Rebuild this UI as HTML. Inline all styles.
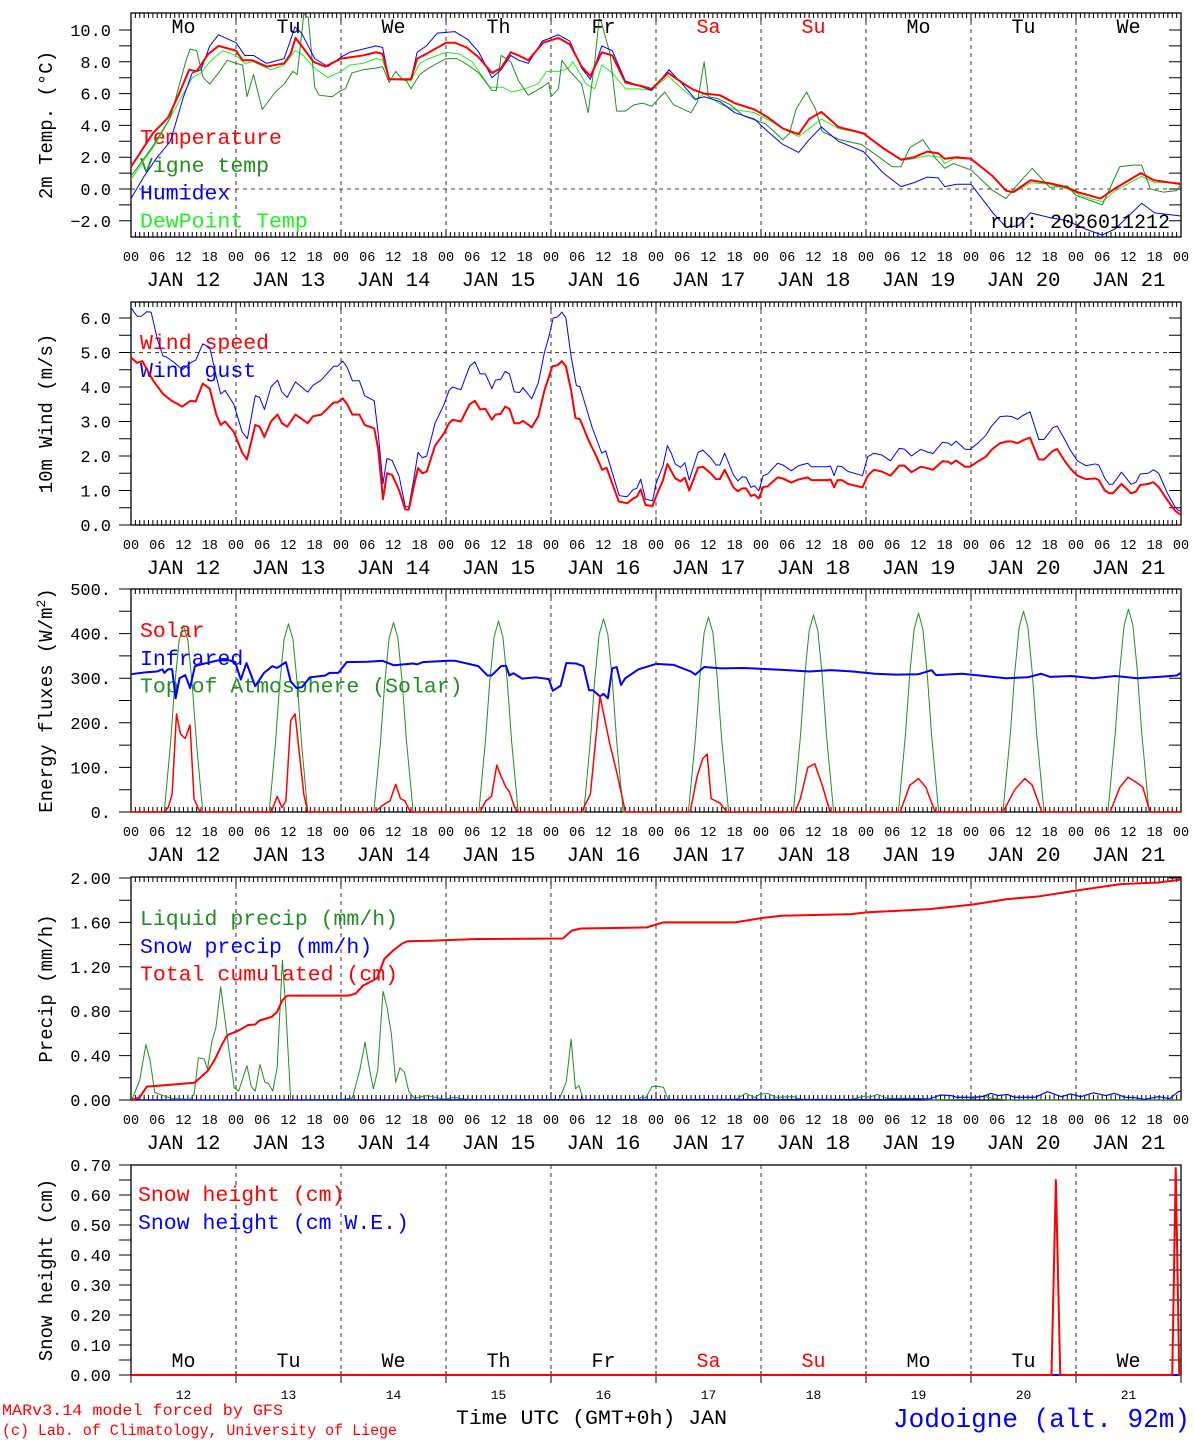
<!DOCTYPE html>
<html><head><meta charset="utf-8"><style>
html,body{margin:0;padding:0;background:#fff;}
svg{display:block;}
text{font-family:"Liberation Mono","DejaVu Sans Mono",monospace;}
</style></head><body>
<svg id="chart" xmlns="http://www.w3.org/2000/svg" width="1194" height="1440" viewBox="0 0 1194 1440">
<rect width="1194" height="1440" fill="#fff"/>
<g id="root"></g>
</svg>
<script>
// ---------- data (hour offset from JAN 12 00 UTC, value) ----------
const dayNames = ["Mo","Tu","We","Th","Fr","Sa","Su","Mo","Tu","We"];
const dayNums = ["12","13","14","15","16","17","18","19","20","21"];
const hourLabels = ["00","06","12","18"];

const tempPts = [[0,1.4],[5,3.5],[8.5,4.5],[11,6.0],[13.3,7.5],[15,7.4],[17.7,8.5],[20,9.0],[24,8.7],[25.5,8.1],[27.7,8.1],[31,7.7],[35,7.9],[36.5,8.5],[37.6,9.5],[39,9.0],[41.7,8.0],[44.4,7.7],[48,8.2],[53,8.4],[56,8.6],[57.5,8.5],[59,6.9],[64,6.9],[65.4,8.2],[67.5,8.5],[72,9.2],[74,9.2],[76.7,8.9],[79.4,8.3],[82.5,7.3],[84.6,7.6],[86.8,8.6],[88.6,8.4],[90.8,8.1],[94.2,9.2],[97.7,9.5],[100.3,9.1],[103,7.7],[105,7.1],[107.6,8.6],[110,8.4],[113,6.7],[116.3,6.5],[119,6.3],[122.8,7.3],[125.9,6.7],[128.5,6.25],[131,6.0],[134.6,5.9],[138,5.4],[142.5,5.0],[145.6,4.5],[149,3.8],[152.6,3.45],[155,4.4],[157.8,4.85],[161.7,3.9],[167.4,3.5],[172,2.55],[176,1.85],[179,2.0],[182,2.35],[184.5,2.25],[186,1.9],[188.7,2.0],[192,1.9],[197,0.8],[200,-0.1],[201.6,-0.2],[205.6,0.55],[210.3,0.35],[214,0.1],[216.4,-0.2],[221.6,-0.6],[225,0.05],[230.8,1.0],[233.8,0.55],[239,0.35],[240,0.3]];
const humidexPts = [[0,-0.6],[3,0.8],[6,2.0],[9,3.0],[12,5.8],[14,7.3],[16,7.5],[18,9.0],[20,9.7],[24,9.2],[26,8.4],[28,8.4],[31,7.9],[35,8.2],[37.5,10.2],[39,9.8],[42,8.2],[45,7.7],[48,8.3],[50,8.6],[53,8.8],[56,9.0],[57.5,8.9],[59,6.9],[64,6.9],[65.4,8.6],[67.5,9.0],[70,9.8],[74,9.9],[77,9.4],[79.5,8.6],[82.5,7.0],[84.6,7.5],[86.8,8.4],[88.6,8.1],[90.8,7.9],[94,9.3],[97.7,9.7],[100.3,9.3],[103,7.6],[105,6.9],[107.6,9.0],[110,8.7],[113,6.8],[116,6.5],[119,6.2],[123,7.5],[126,6.6],[129,5.65],[131,5.8],[134.6,5.5],[138,4.8],[142.5,4.4],[145.6,3.6],[149,2.8],[152.6,2.3],[155,3.1],[157.8,3.9],[161.7,3.0],[167.4,2.35],[172,1.0],[176,0.15],[179,0.4],[182,0.75],[184.5,0.7],[186,0.15],[188.7,0.3],[192,0.3],[197,-1.5],[200,-2.4],[203,-2.3],[205.6,-1.5],[210,-1.8],[214,-2.0],[218,-2.5],[222,-2.9],[225,-2.5],[231,-0.9],[234,-1.5],[240,-1.7]];
const dewPts = [[0,0.6],[6,3.0],[12,6.0],[14,7.0],[16,7.3],[18,8.0],[21,8.7],[24,8.4],[26,7.9],[28,8.0],[32,7.5],[35,7.8],[37.5,8.7],[39,8.5],[42,7.6],[45,7.0],[48,7.4],[50,7.8],[53,7.9],[56,8.2],[57.5,8.1],[59,6.9],[64,6.8],[66,7.9],[68,8.2],[72,8.6],[75,8.5],[78,8.0],[82,6.4],[85,6.4],[87,6.1],[90,6.3],[93,6.6],[95,7.4],[98,7.4],[100,7.6],[101,8.0],[104,6.6],[106,6.3],[107.6,7.8],[110,7.3],[113,6.3],[116,6.3],[119,6.2],[122.8,7.1],[126,6.3],[129,5.6],[131,6.0],[135,5.3],[138,5.0],[142.5,4.8],[146,4.3],[149,3.8],[152.6,3.3],[155,3.8],[157.8,4.4],[161.7,3.8],[167.4,3.5],[172,2.6],[176,1.8],[179,1.9],[182,2.1],[185,2.0],[186,1.6],[188,1.9],[192,1.9],[197,0.8],[200,-0.1],[202,-0.2],[205.6,0.4],[210,0.3],[214,0.0],[218,-0.5],[222,-0.8],[225,-0.1],[231,0.8],[234,0.4],[240,0.4]];
const vignePts = [[0,0.8],[5,2.7],[9,4.5],[11,6.5],[12.5,8.0],[13.5,8.8],[15,8.7],[16.5,7.0],[18,6.6],[20,7.3],[22,8.1],[24,7.9],[25.5,7.8],[26.5,5.8],[28,7.2],[30,5.0],[33,6.1],[35,6.6],[37,7.4],[38,7.2],[39.5,11.0],[40.5,10.8],[42,6.4],[43,5.9],[46,5.8],[48,6.2],[49,6.3],[50.5,7.3],[53,7.5],[56,7.6],[57.5,7.7],[59,6.7],[60.5,7.4],[62,6.9],[63,6.8],[64,6.3],[66,7.2],[68,7.6],[72,8.2],[74.5,8.2],[77,7.8],[79.5,7.3],[82.5,6.2],[83.5,6.2],[84.6,8.4],[86.8,8.0],[88.6,6.8],[90.8,5.9],[94,6.4],[95.5,6.7],[96,5.8],[97.7,6.3],[98.5,8.1],[100,7.5],[103,6.6],[104.5,4.8],[106,8.0],[107,10.7],[107.5,10.5],[109.5,8.5],[111,4.9],[113,4.9],[115,5.3],[117,5.4],[119,5.2],[122,6.1],[124,5.3],[128,4.8],[129.5,5.5],[131,8.0],[132,5.8],[134,5.7],[137,5.3],[140,4.6],[145,4.1],[149,3.1],[150.5,3.5],[152,5.0],[154.4,6.1],[156.5,5.0],[158,3.6],[162,3.1],[167,2.8],[171,2.0],[174,1.4],[176,1.4],[178,2.6],[181,3.1],[184,1.9],[186,1.3],[188,1.6],[192,1.2],[197,-0.1],[200,-0.6],[203,0.4],[206,1.3],[208,0.7],[210,0.1],[214,0.2],[216,-0.4],[222,-1.0],[226,1.4],[229,1.5],[231,1.5],[233,0.0],[236,-0.2],[239,-0.1],[240,0.3]];

const windPts = [[0,4.85],[1.4,4.7],[2.6,4.75],[5,4.2],[7.3,3.8],[9.3,3.6],[11.7,3.43],[13.6,3.6],[14.8,3.58],[16.4,4.1],[18,3.95],[19.5,3.2],[20.5,2.9],[21.5,3.0],[23.5,2.7],[25.4,2.1],[26.5,1.9],[28.4,2.9],[29.4,2.85],[30.5,2.55],[32,3.0],[33.5,3.2],[34.5,2.95],[35.7,2.85],[37.6,3.2],[40.4,2.95],[41.6,3.15],[43.5,3.2],[46.3,3.55],[47.2,3.55],[48.4,3.67],[49.4,3.5],[50.6,3.2],[52.2,3.2],[53.4,2.9],[55.6,2.8],[56.5,2.2],[57.6,0.75],[58.5,1.5],[59.7,1.45],[61.3,1.0],[62.7,0.45],[63.5,0.45],[64.6,1.1],[65.6,1.65],[66.6,1.5],[67.6,1.55],[69.5,2.3],[71.5,2.65],[72.7,2.95],[73.5,3.05],[75.4,3.0],[77.4,3.5],[78.6,3.6],[79.8,3.35],[81,3.37],[82.5,3.05],[83.3,3.2],[84.5,3.22],[85.5,3.43],[86.5,3.37],[87.6,2.95],[88.8,2.95],[89.6,3.02],[91.6,2.83],[93.1,3.15],[94.5,3.9],[96.3,4.6],[97.5,4.63],[98.5,4.75],[99.4,4.6],[100.6,3.9],[101.6,3.1],[102.6,3.07],[104.6,2.45],[106.4,1.98],[107.7,1.6],[108.7,1.66],[111.5,0.68],[113.4,0.63],[114.8,0.77],[115.6,0.82],[116.5,1.03],[117.6,0.58],[119.2,0.55],[120,0.82],[121.6,1.3],[122.6,1.77],[124.4,1.35],[125.6,1.27],[126.6,1.37],[127.6,1.0],[129.6,1.66],[130.7,1.69],[132.5,1.5],[133.7,1.33],[134.6,1.33],[135.7,1.6],[137.7,1.09],[138.7,0.98],[139.7,1.06],[140.6,1.06],[141.7,0.84],[142.5,0.88],[143.5,0.77],[144.5,1.1],[145.5,1.12],[147.8,1.38],[149,1.35],[150.9,1.23],[152.6,1.32],[154.7,1.38],[155.5,1.3],[159.1,1.3],[159.9,1.32],[160.7,1.09],[161.5,1.3],[162.5,1.3],[163.9,1.19],[167.2,1.09],[168.4,1.43],[169.8,1.6],[171.6,1.55],[173.6,1.43],[175.6,1.72],[176.8,1.72],[178.4,1.53],[180.5,1.69],[182,1.65],[183.3,1.6],[185.5,1.85],[186.9,1.83],[187.5,1.77],[188.6,1.87],[190.6,1.69],[191.8,1.69],[193.8,1.86],[195.4,1.98],[196.6,2.17],[198.6,2.37],[200.2,2.42],[201.4,2.42],[202.6,2.37],[203.8,2.45],[205.5,2.53],[207.5,1.9],[208.7,1.9],[210.7,2.15],[211.7,2.2],[213.5,1.84],[214.7,1.64],[216.3,1.43],[218.3,1.33],[220.4,1.35],[221.2,1.3],[222.6,1.0],[223.6,0.92],[224.4,0.92],[226.4,1.19],[228.6,0.92],[229.7,0.97],[230.7,1.16],[232.5,1.19],[233.7,1.24],[234.9,1.1],[236.9,0.72],[238.6,0.42],[239.4,0.34],[240,0.3]];
const gustPts = [[0,6.3],[1.4,6.05],[2.4,6.05],[3.6,6.18],[4.6,6.17],[6.1,5.35],[7.3,4.9],[8.1,4.87],[10,4.7],[11.7,4.5],[13.6,4.7],[14.8,4.78],[16.4,5.25],[18,5.15],[19.5,4.3],[20.5,3.8],[21.5,3.9],[23.5,3.5],[25.4,2.7],[26.6,2.5],[28.4,3.75],[29.4,3.7],[30.5,3.35],[32,4.0],[33.5,4.2],[34.5,3.85],[35.7,3.7],[37.6,4.15],[40.4,3.85],[41.6,4.05],[43.5,4.2],[46.3,4.6],[47.2,4.6],[48.4,4.75],[49.4,4.57],[50.6,4.18],[52.2,4.18],[53.4,3.75],[55.6,3.6],[56.5,2.65],[57.6,1.2],[58.5,1.93],[59.7,1.87],[61.3,1.4],[62.7,0.53],[63.5,0.53],[64.6,1.3],[65.6,2.1],[66.6,1.95],[67.6,2.0],[69.5,2.95],[71.5,3.48],[72.7,3.9],[73.5,4.0],[75.4,3.92],[77.4,4.6],[78.6,4.73],[79.8,4.38],[81,4.38],[82.5,3.95],[83.3,4.2],[84.5,4.22],[85.5,4.45],[86.5,4.38],[87.6,3.86],[88.8,3.84],[89.6,3.98],[91.6,3.66],[93.1,4.12],[94.5,5.0],[95.5,5.45],[96.5,6.0],[97.5,6.03],[98.5,6.17],[99.4,6.0],[100.6,4.88],[101.8,4.04],[102.6,4.01],[105.4,2.83],[107.6,2.08],[108.5,2.15],[111.6,0.85],[113.4,0.82],[114.8,1.03],[115.6,1.06],[116.5,1.33],[117.6,0.75],[119.2,0.7],[120,1.2],[121.6,1.72],[122.6,2.3],[123.5,2.08],[124.4,1.77],[125.6,1.67],[126.6,1.8],[127.6,1.3],[129.6,2.1],[130.7,2.17],[132.5,1.95],[133.7,1.74],[134.6,1.74],[135.7,2.08],[137.7,1.45],[138.7,1.28],[139.7,1.4],[140.6,1.38],[141.7,1.09],[142.5,1.14],[143.5,0.99],[144.5,1.43],[145.5,1.48],[147.8,1.79],[149,1.74],[150.9,1.57],[152.6,1.72],[154.7,1.79],[155.5,1.69],[159.1,1.69],[159.9,1.71],[160.7,1.43],[161.5,1.71],[162.5,1.69],[163.9,1.55],[167.2,1.43],[168.4,1.98],[169.8,2.08],[171.6,2.03],[173.6,1.86],[175.6,2.22],[176.8,2.2],[178.4,2.0],[180.5,2.19],[182,2.12],[183.3,2.07],[185.5,2.4],[186.9,2.37],[187.5,2.3],[188.6,2.43],[190.6,2.2],[191.8,2.19],[193.8,2.4],[195.4,2.6],[196.6,2.85],[198.6,3.14],[200.2,3.16],[201.4,3.14],[202.6,3.06],[203.8,3.17],[205.5,3.28],[207.5,2.48],[208.7,2.48],[210.7,2.82],[211.7,2.87],[213.5,2.46],[214.7,2.17],[216.3,1.86],[218.3,1.72],[220.4,1.77],[221.2,1.74],[222.6,1.35],[223.6,1.18],[224.4,1.18],[226.4,1.53],[228.6,1.18],[229.7,1.24],[230.7,1.48],[232.5,1.5],[233.7,1.6],[234.9,1.5],[236.9,0.92],[238.6,0.53],[239.4,0.42],[240,0.4]];

const infraredPts = [[0,309],[3.2,313],[5.9,315],[7.2,320],[7.6,312],[8.5,320],[9.4,320],[10.2,255],[11.1,300],[12.4,307],[13.5,278],[14.6,327],[16.4,332],[19.9,340],[22.5,340],[23.8,336],[25.1,297],[26.4,334],[28.4,282],[30.4,312],[32.3,327],[33.4,323],[35.4,336],[36.5,293],[37.8,278],[39.1,280],[40.9,302],[44.4,306],[45.4,312],[47.4,312],[49.3,336],[54,337],[57.5,339],[60.1,329],[64.5,333],[65.4,331],[66.7,336],[72.4,339],[74.1,339],[79.4,327],[81.5,306],[82.4,306],[84.6,327],[85.7,328],[86.5,306],[87.4,311],[89.4,299],[92.5,302],[95.5,298],[96.4,272],[98.2,283],[99.5,334],[101.7,333],[103.4,327],[104.7,273],[105.6,273],[107.2,259],[108,265],[109,255],[110,322],[111,325],[112,285],[113,300],[116,320],[120,332],[124,330],[128,315],[129,308],[131,325],[135,322],[140,323],[150,318],[155,315],[160,318],[165,315],[170,310],[175,308],[180,309],[183,318],[184,307],[190,310],[195,305],[200,300],[205,302],[208,310],[210,303],[215,305],[220,300],[225,305],[230,300],[235,303],[239,306],[240,312]];
// top-of-atmosphere solar: per-day points (hour of day, W/m2)
const toaDays = [
 [[7.6,0],[9,150],[10,285],[11,385],[12,418],[13,385],[14,285],[15,150],[16.4,0]],
 [[7.6,0],[9,152],[10,288],[11,388],[12,422],[13,388],[14,288],[15,152],[16.4,0]],
 [[7.5,0],[9,155],[10,290],[11,390],[12,425],[13,390],[14,290],[15,155],[16.5,0]],
 [[7.5,0],[9,158],[10,293],[11,393],[12,428],[13,393],[14,293],[15,158],[16.5,0]],
 [[7.5,0],[9,160],[10,297],[11,398],[12,433],[13,398],[14,297],[15,160],[16.5,0]],
 [[7.4,0],[9,164],[10,300],[11,402],[12,437],[13,402],[14,300],[15,164],[16.6,0]],
 [[7.4,0],[9,168],[10,305],[11,406],[12,442],[13,406],[14,305],[15,168],[16.6,0]],
 [[7.4,0],[9,172],[10,309],[11,410],[12,446],[13,410],[14,309],[15,172],[16.6,0]],
 [[7.3,0],[9,176],[10,313],[11,414],[12,450],[13,414],[14,313],[15,176],[16.7,0]],
 [[7.3,0],[9,180],[10,318],[11,419],[12,455],[13,419],[14,318],[15,180],[16.7,0]]
];
const solarPts = [[0,0],[7.6,0],[8.5,10],[9.4,40],[10.4,220],[11.3,175],[12.4,165],[13.5,195],[14.4,30],[15.5,5],[16.2,0],[32.1,0],[33.4,35],[34.5,10],[35.4,25],[36.5,205],[37.5,220],[39.5,40],[40.4,0],[55.7,0],[57.5,15],[59.2,25],[60.5,62],[61.6,30],[62.6,25],[63.6,5],[64.5,0],[79.8,0],[81.1,25],[82.4,35],[83.6,105],[84.6,80],[85.7,55],[86.5,45],[87.7,10],[88.5,0],[103,0],[105,40],[107.2,260],[109.5,150],[111,90],[113,0],[127.8,0],[129.4,80],[130.7,120],[131.7,130],[132.6,30],[134.6,20],[136.2,0],[151.8,0],[153,30],[154.7,100],[156.3,108],[158,60],[159.8,0],[175.8,0],[178,60],[180,75],[181.7,55],[183.8,0],[199.3,0],[202,50],[204.3,75],[206,60],[208.2,0],[223.8,0],[226,55],[227.9,78],[230,65],[231.3,55],[232.9,0],[240,0]];

const liquidPts = [[0,0],[0.3,0.01],[2,0.18],[3.4,0.5],[4.4,0.35],[5.4,0.07],[7.3,0.04],[9.3,0.015],[13.4,0.006],[14.4,0.045],[15.4,0.38],[16.7,0.37],[17.5,0.28],[18.5,0.53],[19.4,0.65],[20.5,1.02],[21.6,0.69],[22.6,0.39],[23.6,0.11],[24.6,0.08],[26.5,0.31],[27.5,0.12],[28.4,0.08],[29.5,0.32],[30.6,0.16],[31.4,0.15],[32.4,0.08],[33.4,0.29],[34.6,1.26],[35.4,0.81],[36.5,0],[48.3,0.006],[50.6,0.018],[52.3,0.27],[53.5,0.52],[54.4,0.3],[55.4,0.1],[56.4,0.27],[57.6,0.98],[58.5,0.84],[59.5,0.6],[60.5,0.16],[61.5,0.29],[62.5,0.25],[63.5,0.075],[64.8,0.015],[67.7,0.04],[71.8,0.006],[73.8,0.025],[75.8,0.01],[79.1,0],[97.9,0.006],[99.5,0.165],[100.6,0.55],[101.6,0.1],[102.4,0.13],[103.4,0],[115.9,0.006],[116.7,0.025],[117.6,0.018],[119.1,0.12],[119.9,0.125],[121.7,0.115],[122.8,0],[130.8,0.006],[138.1,0],[140.5,0.06],[142.6,0.022],[143.6,0.05],[145.5,0.06],[147.4,0.025],[151.4,0.03],[153.5,0],[164.7,0.006],[167.6,0.035],[168.8,0.025],[170.6,0.05],[172.8,0.015],[179.3,0.015],[182.5,0],[191.4,0.006],[194.6,0.035],[197,0.015],[200.3,0],[240,0]];
const snowPts = [[0,0],[0.5,0.01],[1.5,0.005],[2.5,0],[172,0.005],[182.5,0.01],[185,0.045],[187.4,0.04],[188.6,0.025],[192.2,0.025],[194.6,0.03],[196.6,0.06],[198.2,0.04],[200.3,0.05],[201.9,0.025],[206.7,0.025],[209.5,0.075],[212.7,0.03],[214.7,0.055],[217.1,0.03],[220,0.065],[222.8,0.04],[224.8,0.06],[227.2,0.025],[229.3,0.022],[231.7,0.006],[234.9,0.03],[237.4,0.012],[239.4,0.075],[240,0.08]];
const cumulPts = [[0,0],[0.3,0],[2,0.025],[3.6,0.12],[6.5,0.13],[14.5,0.155],[15.8,0.2],[17.5,0.26],[19.1,0.36],[20.8,0.5],[22,0.585],[23.6,0.61],[24.8,0.63],[26.7,0.675],[28.4,0.68],[29.3,0.715],[32.2,0.75],[33.4,0.795],[34.6,0.9],[35.7,0.94],[49.7,0.94],[51.4,0.96],[53,1.03],[55,1.07],[56.3,1.1],[57.9,1.27],[60,1.35],[62,1.41],[63.2,1.43],[68.5,1.435],[79.1,1.45],[98.7,1.455],[100.7,1.525],[102.8,1.545],[117.9,1.555],[121.6,1.6],[138.1,1.6],[144.2,1.64],[148.6,1.66],[164.7,1.675],[168,1.69],[182.5,1.72],[192.2,1.76],[200.3,1.81],[207.6,1.835],[216.5,1.89],[226.2,1.945],[235,1.96],[240,1.985]];

const snowHeightPts = [[0,0],[210.4,0],[211.4,0.65],[212.4,0],[238,0],[238.8,0.69],[239.6,0],[240,0]];
const snowWEPts = [[0,0],[240,0]];

// ---------- drawing ----------
const NS = "http://www.w3.org/2000/svg";
const root = document.getElementById("root");
const X0 = 131, X1 = 1181, HW = (X1 - X0) / 240;
const xs = h => X0 + h * HW;
function el(tag, attrs, parent, txt) {
  const e = document.createElementNS(NS, tag);
  for (const k in attrs) e.setAttribute(k, attrs[k]);
  if (txt !== undefined) e.textContent = txt;
  (parent || root).appendChild(e);
  return e;
}
function panel(cfg) {
  const g = el("g", {});
  
  
  const ys = v => cfg.y0 - v * cfg.k;
  cfg.ys = ys;
  // frame
  const fr = el("rect", {x: X0, y: cfg.top, width: X1 - X0, height: cfg.bot - cfg.top, fill: "none", stroke: "#000", "stroke-width": 1.3}, g);
  
  
  // vertical day dashed lines
  for (let d = 1; d < 10; d++) {
    const ln = el("line", {x1: xs(d*24), x2: xs(d*24), y1: cfg.top, y2: cfg.bot, stroke: "#333", "stroke-dasharray": "4,4", "stroke-width": 1}, g);
    
    
  }
  if (cfg.hline !== undefined) {
    const hl = el("line", {x1: X0, x2: X1, y1: ys(cfg.hline), y2: ys(cfg.hline), stroke: "#444", "stroke-dasharray": "4,4", "stroke-width": 1}, g);
    
    
  }
  // x ticks
  let d = "";
  if (cfg.hourTicks) {
    for (let h = 0; h <= 240; h++) {
      const L = (h % 24 === 0) ? 8 : 5, x = xs(h).toFixed(2);
      d += `M${x} ${cfg.top}v${L}M${x} ${cfg.bot}v${-L}`;
    }
  } else {
    for (let dd = 0; dd <= 10; dd++) { const x = xs(dd*24).toFixed(2); d += `M${x} ${cfg.bot - 4}v${12}`; }
  }
  // y ticks
  for (let v = cfg.min; v <= cfg.max + 1e-9; v += cfg.minor) {
    const y = ys(v).toFixed(2);
    d += `M${X0 - 12} ${y}h12M${X1} ${y}h-12`;
  }
  const tk = el("path", {d: d, stroke: "#000", "stroke-width": 1, fill: "none"}, g);
  
  
  // y tick labels
  for (let v = cfg.min; v <= cfg.max + 1e-9; v += cfg.major) {
    const t = el("text", {x: 111, y: ys(v) + 6, "text-anchor": "end", "font-size": 17, fill: "#000"}, g, cfg.fmt(v));
    
    
  }
  // y title
  const cy = (cfg.top + cfg.bot) / 2;
  const yt = el("text", {x: 0, y: 0, transform: `translate(52,${cy}) rotate(-90)`, "text-anchor": "middle", "font-size": 19, fill: "#000"}, g);
  
  
  yt.innerHTML = cfg.title;
  // x labels
  if (cfg.hourTicks) {
    for (let dd = 0; dd <= 10; dd++) for (let q = 0; q < 4; q++) {
      if (dd === 10 && q > 0) break;
      const t = el("text", {x: xs(dd*24 + q*6), y: cfg.bot + 24, "text-anchor": "middle", "font-size": 13.5, fill: "#000"}, g, hourLabels[q]);
      
      
    }
    for (let dd = 0; dd < 10; dd++) {
      const t = el("text", {x: xs(dd*24 + 12), y: cfg.bot + 49, "text-anchor": "middle", "font-size": 20.5, fill: "#000"}, g, "JAN " + dayNums[dd]);
      
      
    }
  }
  // legend
  cfg.legend.forEach((L, i) => {
    const t = el("text", {x: cfg.legX || 140, y: cfg.legY + i * 27.8 + 7, "font-size": 21.5, fill: L[1]}, g, L[0]);
    
    
  });
  return g;
}
function series(cfg, pts, color, w, name, g) {
  const d = pts.map((p, i) => (i ? "L" : "M") + xs(p[0]).toFixed(2) + " " + cfg.ys(p[1]).toFixed(2)).join("");
  const p = el("path", {d: d, fill: "none", stroke: color, "stroke-width": w, "stroke-linejoin": "round"}, g);
  
  
}

const RED = "#ff0000", GRN = "#1f8f1f", LGRN = "#22ee22", BLU = "#0000ff";

// Panel 1 temperature
const p1 = {name: "temperature-panel", top: 13, bot: 237, y0: 189, k: 15.9, min: -3, max: 11, minor: 1, major: 2, hline: 0, hourTicks: true,
  fmt: v => (v < 0 ? "\u2212" + Math.abs(v).toFixed(1) : v.toFixed(1)), title: "2m Temp. (°C)", legY: 137,
  legend: [["Temperature", RED], ["Vigne temp", GRN], ["Humidex", BLU], ["DewPoint Temp", LGRN]]};
p1.min = -2; p1.max = 10;
const g1 = panel(p1);
// extra minor ticks beyond labelled range
series(p1, dewPts, LGRN, 1, "dewpoint-line", g1);
series(p1, vignePts, GRN, 1, "vigne-temp-line", g1);
series(p1, humidexPts, BLU, 1, "humidex-line", g1);
series(p1, tempPts, RED, 2, "temperature-line", g1);
dayNames.forEach((n, i) => {
  const t = el("text", {x: xs(i*24 + 12), y: 33, "text-anchor": "middle", "font-size": 20, fill: (n === "Sa" || n === "Su") && i > 4 && i < 7 ? RED : "#000"}, g1, n);
  
  
});
const run = el("text", {x: 1170, y: 228, "text-anchor": "end", "font-size": 20, fill: "#000"}, g1, "run: 2026011212");



// Panel 2 wind
const p2 = {name: "wind-panel", top: 302, bot: 525, y0: 525, k: 34.5, min: 0, max: 6, minor: 0.5, major: 1, hline: 5, hourTicks: true,
  fmt: v => v.toFixed(1), title: "10m Wind (m/s)", legY: 342, legend: [["Wind speed", RED], ["Wind gust", BLU]]};
const g2 = panel(p2);
series(p2, gustPts, BLU, 1, "wind-gust-line", g2);
series(p2, windPts, RED, 2, "wind-speed-line", g2);

// Panel 3 energy
const p3 = {name: "energy-panel", top: 589, bot: 812, y0: 812, k: 0.446, min: 0, max: 500, minor: 50, major: 100, hourTicks: true,
  fmt: v => v.toFixed(0) + ".", title: "Energy fluxes (W/m<tspan dy='-7' font-size='13'>2</tspan><tspan dy='7'>)</tspan>", legY: 630,
  legend: [["Solar", RED], ["Infrared", BLU], ["Top of Atmosphere (Solar)", GRN]]};
const g3 = panel(p3);
const toaPts = [[0,0]];
toaDays.forEach((day, i) => day.forEach(p => toaPts.push([i*24 + p[0], p[1]])));
toaPts.push([240,0]);
series(p3, toaPts, GRN, 1, "toa-solar-line", g3);
series(p3, infraredPts, BLU, 2, "infrared-line", g3);
series(p3, solarPts, RED, 1.5, "solar-line", g3);

// Panel 4 precipitation
const p4 = {name: "precip-panel", top: 877, bot: 1100, y0: 1100, k: 111, min: 0, max: 2, minor: 0.2, major: 0.4, hourTicks: true,
  fmt: v => v.toFixed(2), title: "Precip (mm/h)", legY: 918,
  legend: [["Liquid precip (mm/h)", GRN], ["Snow precip (mm/h)", BLU], ["Total cumulated (cm)", RED]]};
const g4 = panel(p4);
series(p4, liquidPts, GRN, 1, "liquid-precip-line", g4);
series(p4, snowPts, BLU, 1.2, "snow-precip-line", g4);
series(p4, cumulPts, RED, 2, "cumulated-precip-line", g4);

// Panel 5 snow height
const p5 = {name: "snow-panel", top: 1165, bot: 1375, y0: 1375, k: 300, min: 0, max: 0.7, minor: 0.05, major: 0.1, hourTicks: false,
  fmt: v => v.toFixed(2), title: "Snow height (cm)", legY: 1194, legX: 138,
  legend: [["Snow height (cm)", RED], ["Snow height (cm W.E.)", BLU]]};
const g5 = panel(p5);
series(p5, snowWEPts, BLU, 2, "snow-we-line", g5);
series(p5, snowHeightPts, RED, 2, "snow-height-line", g5);
dayNames.forEach((n, i) => {
  const t = el("text", {x: xs(i*24 + 12), y: 1367, "text-anchor": "middle", "font-size": 20, fill: (i === 5 || i === 6) ? RED : "#000"}, g5, n);
  
  
  const t2 = el("text", {x: xs(i*24 + 12), y: 1399, "text-anchor": "middle", "font-size": 13, fill: "#000"}, g5, dayNums[i]);
  
  
});
// footer
const f1 = el("text", {x: 2, y: 1415, "font-size": 16, fill: RED, textLength: 281, lengthAdjust: "spacingAndGlyphs"}, root, "MARv3.14 model forced by GFS");


const f2 = el("text", {x: 2, y: 1435, "font-size": 16, fill: RED, textLength: 395, lengthAdjust: "spacingAndGlyphs"}, root, "(c) Lab. of Climatology, University of Liege");


const f3 = el("text", {x: 456, y: 1424, "font-size": 20, fill: "#000", textLength: 271, lengthAdjust: "spacingAndGlyphs"}, root, "Time UTC (GMT+0h) JAN");


const f4 = el("text", {x: 893, y: 1427, "font-size": 27, fill: BLU, textLength: 297, lengthAdjust: "spacingAndGlyphs"}, root, "Jodoigne (alt. 92m)");


</script>
</body></html>
